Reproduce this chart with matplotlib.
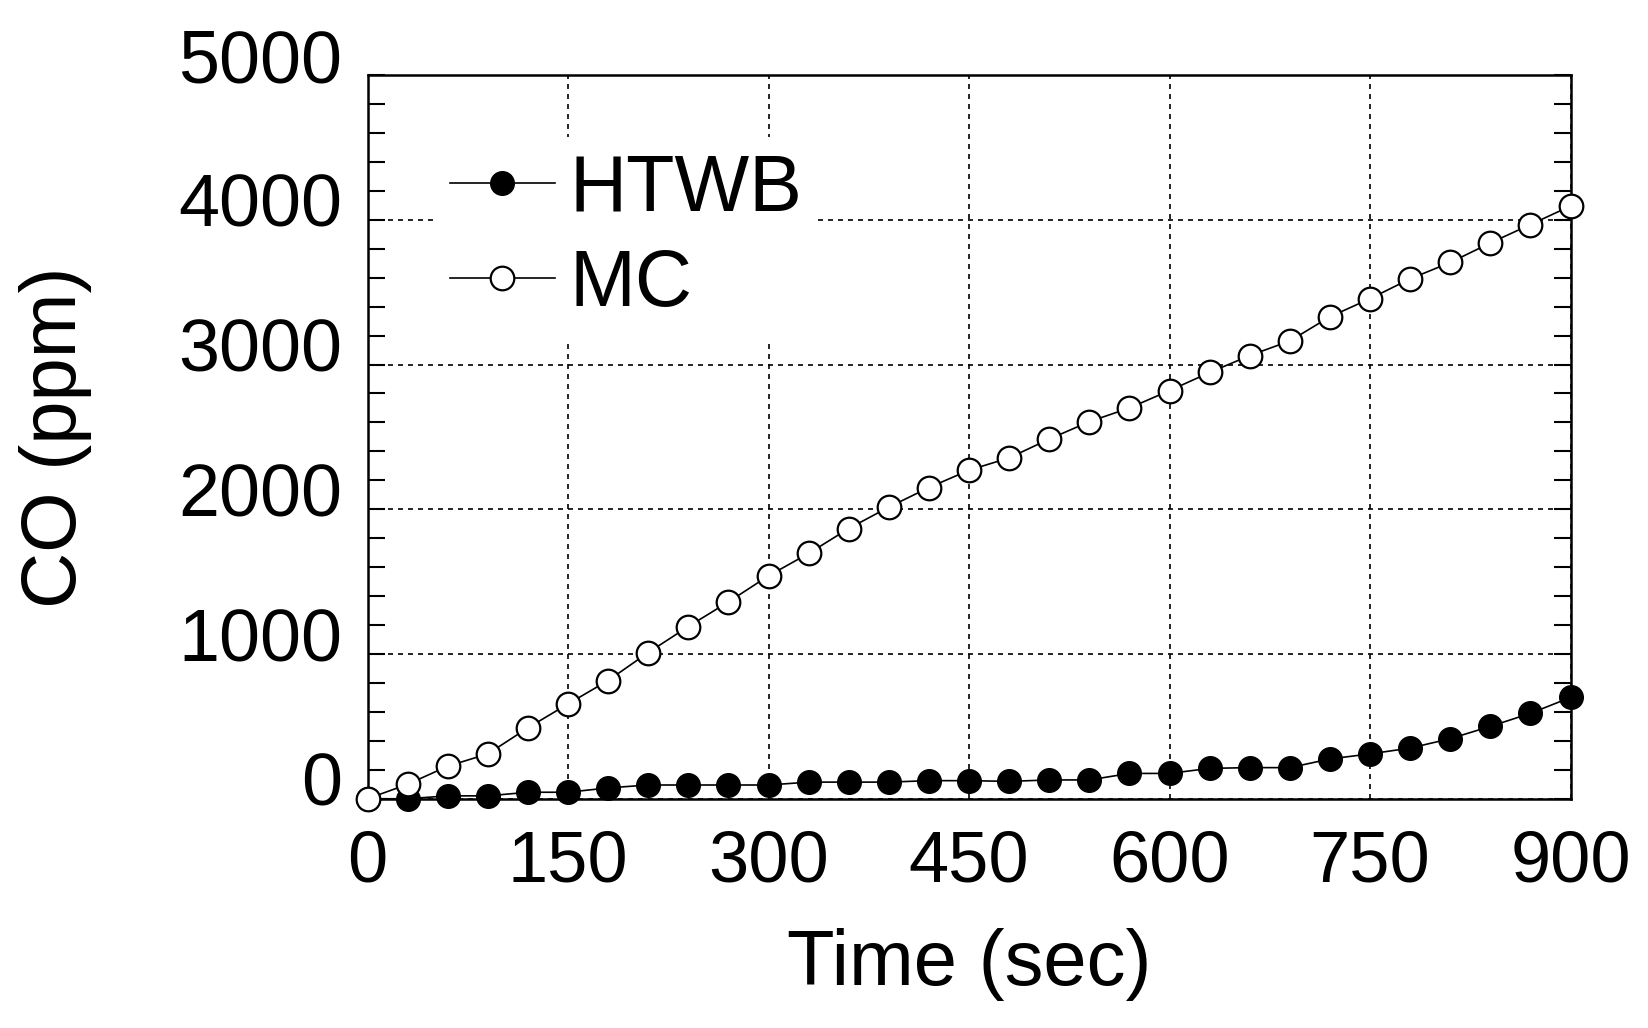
import matplotlib
matplotlib.use("Agg")
import matplotlib.pyplot as plt
import matplotlib.transforms as mtransforms
from matplotlib.ticker import MultipleLocator

plt.rcParams['font.family'] = ['Liberation Sans', 'DejaVu Sans']

# data
time_sec = [0, 30, 60, 90, 120, 150, 180, 210, 240, 270, 300,
            330, 360, 390, 420, 450, 480, 510, 540, 570, 600,
            630, 660, 690, 720, 750, 780, 810, 840, 870, 900]
htwb_ppm = [0, 0, 20, 20, 45, 45, 75, 95, 95, 95, 95,
            115, 115, 115, 125, 125, 120, 130, 130, 175, 175,
            210, 215, 215, 275, 310, 350, 415, 500, 590, 700]
mc_ppm = [0, 100, 225, 310, 490, 655, 817, 1010, 1190, 1360, 1540,
          1695, 1867, 2015, 2150, 2270, 2355, 2485, 2605, 2700, 2820,
          2945, 3062, 3163, 3330, 3455, 3592, 3705, 3840, 3967, 4095]
x_ticks = [0, 150, 300, 450, 600, 750, 900]
y_ticks = [0, 1000, 2000, 3000, 4000, 5000]

fig = plt.figure(figsize=(16.48, 10.28), dpi=100)
ax = fig.add_axes([0.223, 0.223, 0.730, 0.704])

ax.plot(time_sec, htwb_ppm, color='black', lw=1.2, marker='o', ms=17,
        mfc='black', mec='black', label='HTWB', clip_on=False, zorder=3)
ax.plot(time_sec, mc_ppm, color='black', lw=1.2, marker='o', ms=17,
        mfc='white', mec='black', mew=1.6, label='MC', clip_on=False, zorder=3)

ax.set_xlim(0, 900)
ax.set_ylim(0, 5000)
ax.set_xticks(x_ticks)
ax.set_yticks(y_ticks)
ax.yaxis.set_minor_locator(MultipleLocator(200))

ax.grid(True, which='major', color='black', linestyle=(0, (3, 3)), linewidth=1.2)
ax.tick_params(axis='both', which='both', direction='in', top=True, right=True, width=1.5)
ax.tick_params(axis='y', which='minor', length=12)
ax.tick_params(axis='y', which='major', length=12, labelsize=53, pad=18)
ax.tick_params(axis='x', which='major', length=0, labelsize=52, pad=22)
for s in ax.spines.values():
    s.set_linewidth(1.8)

# y tick labels sit a bit above their ticks in the reference
shift = mtransforms.ScaledTranslation(0, 0.2, fig.dpi_scale_trans)
for lbl in ax.get_yticklabels():
    lbl.set_transform(lbl.get_transform() + shift)

ax.set_xlabel('Time (sec)', fontsize=56)
ax.xaxis.set_label_coords(0.5, -0.229)
ax.xaxis.label.set_va('center')
ax.set_ylabel('CO (ppm)', fontsize=56)
ax.yaxis.set_label_coords(-0.259, 0.5)
ax.yaxis.label.set_va('center')

leg = ax.legend(loc='center left', bbox_to_anchor=(0.055, 0.775), fontsize=57,
                handlelength=1.33, handletextpad=0.18, labelspacing=0.25,
                borderpad=0.2, borderaxespad=0, frameon=True, fancybox=False,
                facecolor='white', edgecolor='none', framealpha=1)
leg.set_zorder(4)

fig.savefig('out.png', dpi=100)
